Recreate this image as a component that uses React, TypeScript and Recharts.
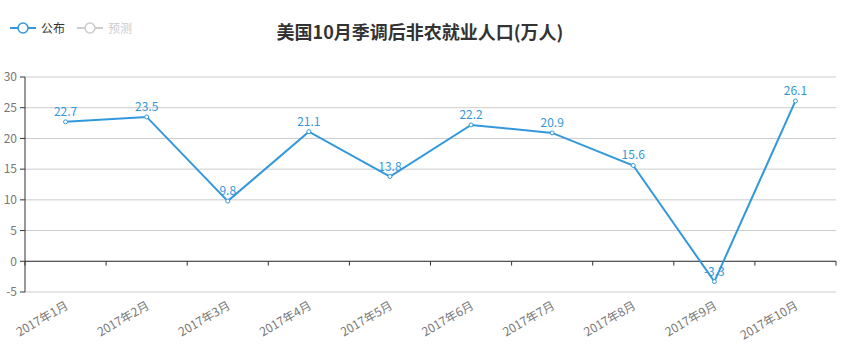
import React from "react";
import { LineChart, Line, XAxis, YAxis, CartesianGrid, ReferenceLine, LabelList } from "recharts";

const months = [
  "2017年1月", "2017年2月", "2017年3月", "2017年4月", "2017年5月",
  "2017年6月", "2017年7月", "2017年8月", "2017年9月", "2017年10月",
];
const published = [22.7, 23.5, 9.8, 21.1, 13.8, 22.2, 20.9, 15.6, -3.3, 26.1];
const yTicks = [-5, 0, 5, 10, 15, 20, 25, 30];

const BLUE = "#3398DB";
const FONT = "'Noto Sans CJK SC', 'Noto Sans', sans-serif";

const data = months.map((m, i) => ({ x: i + 0.5, name: m, value: published[i] }));
const boundaries = months.map((_, i) => i).concat(months.length);

function MonthTick(props: any) {
  const { x, y, payload } = props;
  const label = months[Math.floor(payload.value)];
  return (
    <g transform={`translate(${x},${y})`}>
      <text
        x={0}
        y={0}
        dy={7}
        textAnchor="end"
        transform="rotate(-30)"
        fill="#777"
        fontSize={12}
        fontFamily={FONT}
      >
        {label}
      </text>
    </g>
  );
}

function LegendIcon({ color }: { color: string }) {
  return (
    <svg width={26} height={14} style={{ verticalAlign: "middle" }}>
      <line x1={0} y1={7} x2={26} y2={7} stroke={color} strokeWidth={2} />
      <circle cx={13} cy={7} r={5} fill="#fff" stroke={color} strokeWidth={1.5} />
    </svg>
  );
}

export default function App() {
  return (
    <div style={{ position: "absolute", left: 0, top: 0, width: 853, height: 351, fontFamily: FONT }}>
      <div style={{ position: "absolute", left: 10, top: 19, display: "flex", alignItems: "center", fontSize: 12 }}>
        <LegendIcon color={BLUE} />
        <span style={{ color: "#333", marginLeft: 5, marginRight: 12 }}>公布</span>
        <LegendIcon color="#ccc" />
        <span style={{ color: "#ccc", marginLeft: 5 }}>预测</span>
      </div>
      <div
        style={{
          position: "absolute",
          left: 0,
          width: 840,
          top: 18,
          textAlign: "center",
          fontSize: 18,
          fontWeight: "bold",
          color: "#333",
        }}
      >
        美国10月季调后非农就业人口(万人)
      </div>
      <LineChart width={853} height={351} data={data} margin={{ top: 77, right: 17, left: 0, bottom: 9 }}>
        <CartesianGrid vertical={false} stroke="#ccc" />
        <XAxis
          dataKey="x"
          type="number"
          domain={[0, months.length]}
          ticks={data.map((d) => d.x)}
          axisLine={false}
          tickLine={false}
          interval={0}
          height={50}
          tick={<MonthTick />}
          tickMargin={4}
        />
        <YAxis
          domain={[-5, 30]}
          ticks={yTicks}
          width={25}
          tickSize={5}
          tickMargin={3}
          axisLine={{ stroke: "#333" }}
          tickLine={{ stroke: "#333" }}
          tick={{ fill: "#777", fontSize: 12, fontFamily: FONT }}
        />
        <ReferenceLine y={0} stroke="#333" />
        {boundaries.map((b) => (
          <ReferenceLine
            key={b}
            segment={[{ x: b, y: 0 }, { x: b, y: -0.7 }]}
            stroke="#333"
            ifOverflow="extendDomain"
          />
        ))}
        <Line
          type="linear"
          dataKey="value"
          stroke={BLUE}
          strokeWidth={2}
          dot={{ r: 2, fill: "#fff", stroke: BLUE, strokeWidth: 1 }}
          activeDot={false}
          isAnimationActive={false}
        >
          <LabelList dataKey="value" position="top" offset={6} fill={BLUE} fontSize={12} fontFamily={FONT} />
        </Line>
      </LineChart>
    </div>
  );
}
